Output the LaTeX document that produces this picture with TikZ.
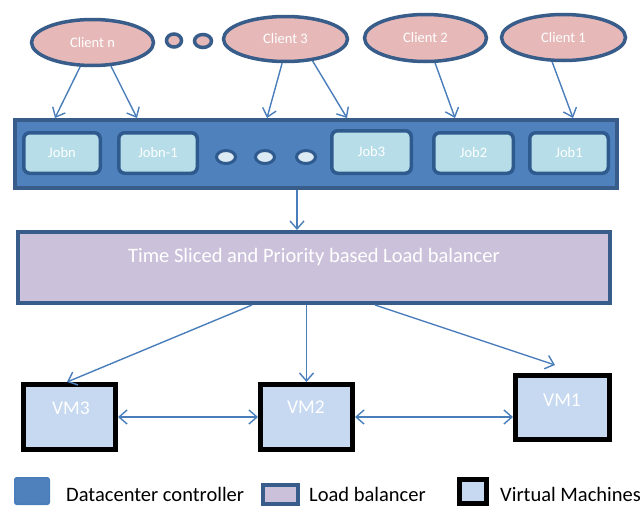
\documentclass[tikz,border=0pt]{standalone}
\usepackage{fontspec}
\setmainfont{Carlito}
\usetikzlibrary{arrows.meta,shapes.geometric}
\definecolor{dkblue}{HTML}{385D8A}
\definecolor{jobd}{HTML}{2F5A8E}
\definecolor{pinkf}{HTML}{E6B9B8}
\definecolor{barf}{HTML}{4F81BD}
\definecolor{jobf}{HTML}{B7DEE8}
\definecolor{dotf}{HTML}{DCEBF3}
\definecolor{lbf}{HTML}{CCC1DA}
\definecolor{vmf}{HTML}{C6D9F1}
\definecolor{arrc}{HTML}{4A7EBB}
\begin{document}
\begin{tikzpicture}[x=1pt,y=-1pt,
  client/.style={ellipse, draw=dkblue, line width=3.5pt, fill=pinkf, inner sep=0pt, text=white, font=\fontsize{14.5}{14.5}\selectfont},
  topdot/.style={ellipse, draw=dkblue, line width=3.5pt, fill=pinkf, inner sep=0pt},
  barbox/.style={rectangle, draw=dkblue, line width=3.5pt, fill=barf, inner sep=0pt},
  jobbox/.style={rectangle, rounded corners=6pt, draw=jobd, line width=3.5pt, fill=jobf, inner sep=0pt, text=white, font=\fontsize{14.5}{14.5}\selectfont, minimum height=40.5pt},
  bardot/.style={ellipse, draw=jobd, line width=3pt, fill=dotf, inner sep=0pt, minimum width=19pt, minimum height=13pt},
  lbbox/.style={rectangle, draw=dkblue, line width=4pt, fill=lbf, inner sep=0pt},
  vmbox/.style={rectangle, draw=black, line width=5pt, fill=vmf, inner sep=0pt},
  vmtext/.style={text=white, font=\fontsize{19.5}{19.5}\selectfont, inner sep=0pt},
  arr/.style={draw=arrc, line width=1.4pt, -{Straight Barb[length=8pt,width=14pt]}},
  darr/.style={draw=arrc, line width=1.4pt, {Straight Barb[length=8pt,width=14pt]}-{Straight Barb[length=8pt,width=14pt]}},
  legtext/.style={anchor=base west, inner sep=0pt, font=\fontsize{20.5}{20.5}\selectfont}
]
\useasboundingbox (0,0) rectangle (643,506);

% clients
\node[client, minimum width=122pt, minimum height=46pt] (cn) at (92.5,42.5) {Client n};
\node[topdot, minimum width=15pt, minimum height=13pt] (d1) at (174,40.5) {};
\node[topdot, minimum width=17pt, minimum height=13pt] (d2) at (203,41) {};
\node[client, minimum width=124pt, minimum height=45pt] (c3) at (285.5,39) {Client 3};
\node[client, minimum width=122pt, minimum height=47pt] (c2) at (425.5,38) {Client 2};
\node[client, minimum width=124pt, minimum height=46pt] (c1) at (563.5,37.5) {Client 1};

% datacenter controller bar
\node[barbox, minimum width=602pt, minimum height=68pt] (bar) at (316,154) {};
\node[jobbox, minimum width=76.5pt] (jn) at (62,153) {Jobn};
\node[jobbox, minimum width=78.5pt] (jn1) at (158,153) {Jobn-1};
\node[bardot] (e1) at (226,157) {};
\node[bardot] (e2) at (265,157) {};
\node[bardot] (e3) at (306,157) {};
\node[jobbox, minimum width=79.5pt, minimum height=42.5pt] (j3) at (371.5,152) {Job3};
\node[jobbox, minimum width=79.5pt] (j2) at (473.5,153) {Job2};
\node[jobbox, minimum width=78.5pt] (j1) at (569,153) {Job1};

% arrow ends on bar top
\coordinate (t1) at (55,118);
\coordinate (t2) at (137,118);
\coordinate (t3) at (267,118);
\coordinate (t4) at (347,118);
\coordinate (t5) at (455,118);
\coordinate (t6) at (573,118);
\draw[arr] (cn.243) -- (t1);
\draw[arr] (cn.308) -- (t2);
\draw[arr] (c3.262) -- (t3);
\draw[arr] (c3.321) -- (t4);
\draw[arr] (c2.291) -- (t5);
\draw[arr] (c1.245) -- (t6);

% load balancer
\node[lbbox, minimum width=592pt, minimum height=71pt] (lb) at (314,267.5) {};
\node[text=white, inner sep=0pt, font=\fontsize{20.5}{20.5}\selectfont] (lbt) at (314,257) {Time Sliced and Priority based Load balancer};
\coordinate (s0) at (297,0);
\draw[arr] (bar.south -| s0) -- (lb.north -| s0);

% VMs
\node[vmbox, minimum width=92pt, minimum height=65pt] (vm3) at (69.5,417) {};
\node[vmbox, minimum width=92pt, minimum height=65pt] (vm2) at (306.5,417) {};
\node[vmbox, minimum width=94pt, minimum height=64pt] (vm1) at (562.5,407.5) {};
\node[vmtext] (vm3t) at (71,408) {VM3};
\node[vmtext] (vm2t) at (306,407) {VM2};
\node[vmtext] (vm1t) at (562,400) {VM1};

\coordinate (s1) at (252,0);
\coordinate (s3) at (375,0);
\coordinate (v3) at (67,382);
\coordinate (v1) at (555,365);
\draw[arr] (lb.south -| s1) -- (v3);
\draw[arr] (lb.south -| vm2.north) -- (vm2.north);
\draw[arr] (lb.south -| s3) -- (v1);
\draw[darr] (vm3.east) -- (vm2.west);
\draw[darr] (vm2.east) -- (vm2.east -| vm1.west);

% legend
\node[rectangle, rounded corners=2pt, draw=arrc, line width=1.5pt, fill=barf, minimum width=34.5pt, minimum height=26.5pt, inner sep=0pt] (k1) at (32,491) {};
\node[legtext] (k1t) at (66,501) {Datacenter controller};
\node[lbbox, minimum width=35pt, minimum height=19pt] (k2) at (280.5,494.5) {};
\node[legtext] (k2t) at (309,501) {Load balancer};
\node[vmbox, minimum width=27pt, minimum height=24pt] (k3) at (472.5,491.5) {};
\node[legtext] (k3t) at (500,501) {Virtual Machines};
\end{tikzpicture}
\end{document}
